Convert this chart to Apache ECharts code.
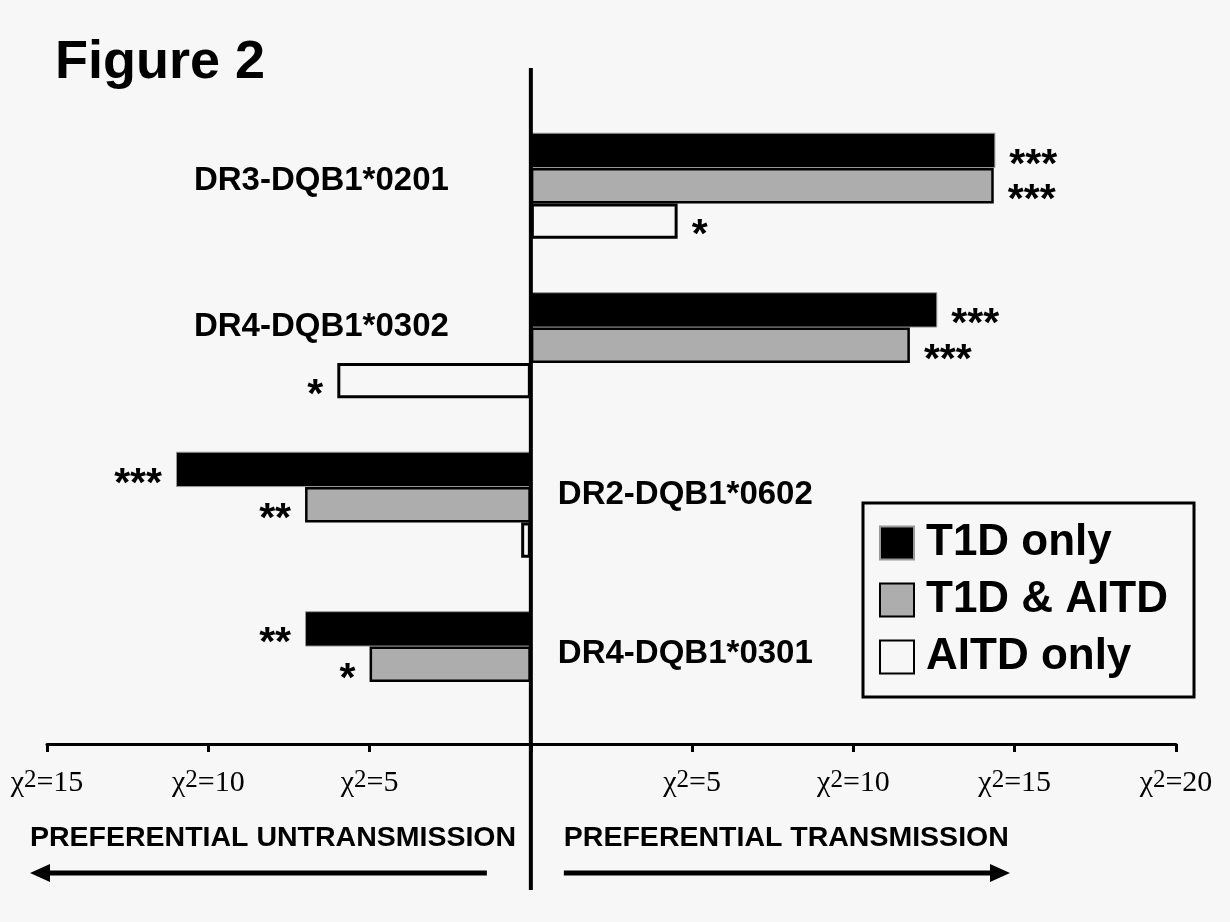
<!DOCTYPE html>
<html><head><meta charset="utf-8">
<script src="https://cdn.jsdelivr.net/npm/echarts@6/dist/echarts.min.js"></script>
<style>html,body{margin:0;padding:0;background:#f7f7f7}#c{width:1230px;height:922px}</style>
</head><body><div id="c"></div>
<script>
// ---- data ----
const categories = ['DR3-DQB1*0201', 'DR4-DQB1*0302', 'DR2-DQB1*0602', 'DR4-DQB1*0301'];
const seriesNames = ['T1D only', 'T1D & AITD', 'AITD only'];
const t1dOnly = [14.4, 12.6, -11.0, -7.0];
const t1dAitd = [14.35, 11.75, -7.0, -5.0];
const aitdOnly = [4.55, -6.0, -0.3, null];
const t1dOnlyStars = ['***', '***', '***', '**'];
const t1dAitdStars = ['***', '***', '**', '*'];
const aitdOnlyStars = ['*', '*', '', ''];
const tickValues = [-15, -10, -5, 0, 5, 10, 15, 20];
const tickLabels = ['χ2=15', 'χ2=10', 'χ2=5', '', 'χ2=5', 'χ2=10', 'χ2=15', 'χ2=20'];
const leftCaption = 'PREFERENTIAL UNTRANSMISSION';
const rightCaption = 'PREFERENTIAL TRANSMISSION';
const titleText = 'Figure 2';

// ---- styles ----
const BG = '#f7f7f7';
const SANS = 'Liberation Sans, Arial, sans-serif';
const SERIF = 'Liberation Serif, Times New Roman, serif';
const catLabelDy = [-5, -18, -10, -10];

const chart = echarts.init(document.getElementById('c'), null, {renderer: 'canvas'});

function makeSeries(name, vals, stars, itemStyle) {
  return {
    name: name, type: 'bar', barGap: '0%', barCategoryGap: '33.5%',
    itemStyle: itemStyle,
    label: {show: true, fontFamily: SANS, fontSize: 41, fontWeight: 'bold', color: '#000', distance: 14, offset: [0, 15]},
    data: vals.map((v, i) => ({
      value: v,
      label: {show: !!stars[i], position: v >= 0 ? 'right' : 'left', formatter: stars[i] || ''}
    }))
  };
}

chart.setOption({
  backgroundColor: BG,
  animation: false,
  title: {text: titleText, left: 50, top: 31, textStyle: {fontFamily: SANS, fontSize: 54, fontWeight: 'bold', color: '#000'}},
  grid: {left: 47, right: 54, top: 106, bottom: 178, outerBoundsMode: 'none'},
  legend: {
    data: seriesNames, orient: 'vertical', left: 863, top: 503,
    itemWidth: 34, itemHeight: 33, itemGap: 13,
    padding: [18, 26, 18, 16],
    borderColor: '#000', borderWidth: 3, backgroundColor: BG,
    icon: 'rect',
    textStyle: {fontFamily: SANS, fontSize: 44, fontWeight: 'bold', color: '#000', lineHeight: 44, padding: [0, 0, 0, 7]}
  },
  xAxis: {
    type: 'value', min: -15, max: 20, interval: 5,
    splitLine: {show: false},
    axisLine: {show: true, onZero: false, lineStyle: {color: '#000', width: 3}},
    axisTick: {show: true, length: 8, lineStyle: {color: '#000', width: 3}},
    axisLabel: {
      margin: 24,
      formatter: function (v) {
        const s = tickLabels[tickValues.indexOf(v)];
        if (!s) return '';
        return '{x|χ}{s|2}{x|' + s.slice(2) + '}';
      },
      rich: {
        x: {fontFamily: SERIF, fontSize: 30, color: '#000'},
        s: {fontFamily: SERIF, fontSize: 25, color: '#000', verticalAlign: 'top'}
      }
    }
  },
  yAxis: {type: 'category', data: categories, inverse: true, show: false},
  series: [
    makeSeries(seriesNames[0], t1dOnly, t1dOnlyStars, {color: '#000', borderColor: '#999', borderWidth: 1}),
    makeSeries(seriesNames[1], t1dAitd, t1dAitdStars, {color: '#adadad', borderColor: '#000', borderWidth: 2.5}),
    makeSeries(seriesNames[2], aitdOnly, aitdOnlyStars, {color: BG, borderColor: '#000', borderWidth: 3})
  ]
});

// ---- decorations positioned from the axes ----
const x0 = chart.convertToPixel({xAxisIndex: 0}, 0);
const g = [];
g.push({type: 'line', z: 100, shape: {x1: x0, y1: 68, x2: x0, y2: 890}, style: {stroke: '#000', lineWidth: 4}});
categories.forEach((c, i) => {
  const y = chart.convertToPixel({yAxisIndex: 0}, i);
  const leftSide = t1dOnly[i] > 0;
  g.push({type: 'text', z: 100, x: leftSide ? x0 - 82 : x0 + 27, y: y + catLabelDy[i],
    style: {text: c, fontFamily: SANS, fontSize: 33, fontWeight: 'bold', fill: '#000',
      align: leftSide ? 'right' : 'left', verticalAlign: 'middle'}});
});
const capY = 838, arrY = 873;
g.push({type: 'text', z: 100, x: 30, y: capY, style: {text: leftCaption, fontFamily: SANS, fontSize: 28.5, fontWeight: 'bold', fill: '#000', verticalAlign: 'middle'}});
g.push({type: 'text', z: 100, x: x0 + 33, y: capY, style: {text: rightCaption, fontFamily: SANS, fontSize: 28.5, fontWeight: 'bold', fill: '#000', verticalAlign: 'middle'}});
g.push({type: 'line', z: 100, shape: {x1: x0 - 44, y1: arrY, x2: 45, y2: arrY}, style: {stroke: '#000', lineWidth: 5}});
g.push({type: 'polygon', z: 100, shape: {points: [[30, arrY], [50, arrY - 9], [50, arrY + 9]]}, style: {fill: '#000'}});
g.push({type: 'line', z: 100, shape: {x1: x0 + 33, y1: arrY, x2: 995, y2: arrY}, style: {stroke: '#000', lineWidth: 5}});
g.push({type: 'polygon', z: 100, shape: {points: [[1010, arrY], [990, arrY - 9], [990, arrY + 9]]}, style: {fill: '#000'}});
chart.setOption({graphic: g});
</script>
</body></html>
